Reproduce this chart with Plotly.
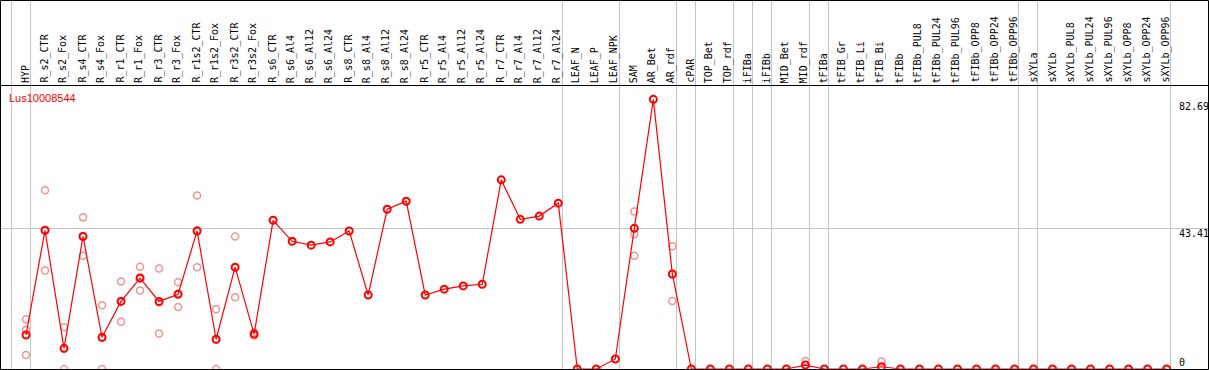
import plotly.graph_objects as go

# ---------------- data ----------------
categories = [
    "HYP", "R_s2_CTR", "R_s2_Fox", "R_s4_CTR", "R_s4_Fox", "R_r1_CTR", "R_r1_Fox",
    "R_r3_CTR", "R_r3_Fox", "R_r1s2_CTR", "R_r1s2_Fox", "R_r3s2_CTR", "R_r3s2_Fox",
    "R_s6_CTR", "R_s6_Al4", "R_s6_Al12", "R_s6_Al24", "R_s8_CTR", "R_s8_Al4",
    "R_s8_Al12", "R_s8_Al24", "R_r5_CTR", "R_r5_Al4", "R_r5_Al12", "R_r5_Al24",
    "R_r7_CTR", "R_r7_Al4", "R_r7_Al12", "R_r7_Al24",
    "LEAF_N", "LEAF_P", "LEAF_NPK",
    "SAM", "AR_Bet", "AR_rdf",
    "cPAR",
    "TOP_Bet", "TOP_rdf",
    "iFIBa",
    "iFIBb",
    "MID_Bet", "MID_rdf",
    "tFIBa",
    "tFIB_Gr", "tFIB_Li", "tFIB_Bi", "tFIBb", "tFIBb_PUL8", "tFIBb_PUL24",
    "tFIBb_PUL96", "tFIBb_OPP8", "tFIBb_OPP24", "tFIBb_OPP96",
    "sXYLa",
    "sXYLb", "sXYLb_PUL8", "sXYLb_PUL24", "sXYLb_PUL96", "sXYLb_OPP8",
    "sXYLb_OPP24", "sXYLb_OPP96",
]

# number of categories in each sample group (separated by grey lines)
group_sizes = [1, 28, 3, 3, 1, 2, 1, 1, 2, 1, 10, 1, 7]

mean_values = [
    10.5, 42.9, 6.4, 41.0, 9.8, 20.9, 28.1, 20.9, 23.1, 42.7, 9.2, 31.5, 10.8,
    46.0, 39.5, 38.3, 39.3, 42.7, 22.9, 49.4, 51.9, 22.9, 24.7, 25.7, 26.2,
    58.5, 46.3, 47.3, 51.3,
    0.0, 0.0, 3.1,
    43.5, 83.4, 29.4,
    0.0,
    0.0, 0.0,
    0.0,
    0.0,
    0.0, 1.2,
    0.0,
    0.0, 0.0, 0.7, 0.0, 0.0, 0.0, 0.0, 0.0, 0.0, 0.0,
    0.0,
    0.0, 0.0, 0.0, 0.0, 0.0, 0.0, 0.0,
]

replicates = [
    [15.4, 12.1, 4.3], [55.3, 30.5, 42.9], [12.9, 0.0, 6.3], [46.9, 35.0, 41.1],
    [19.7, 0.0, 9.7], [27.1, 14.6, 21.0], [31.6, 24.3, 28.4], [31.1, 11.0, 20.6],
    [26.8, 19.2, 23.3], [53.7, 31.5, 42.9], [18.5, 0.0, 9.1], [41.0, 22.2, 31.3],
    [11.4, 10.4, 10.6],
    [], [], [], [], [], [], [], [], [], [], [], [], [], [], [], [],
    [], [], [],
    [48.7, 41.7, 35.0], [], [38.0, 21.0, 29.2],
    [],
    [], [],
    [],
    [],
    [], [2.5],
    [],
    [], [], [2.3], [], [], [], [], [], [], [],
    [],
    [], [], [], [], [], [], [],
]

gene_name = "Lus10008544"
y_label_values = [82.69, 43.41, 0]

# ---------------- geometry / style ----------------
W, H = 1209, 370
X0_PX, X_STEP = 26.0, 19.01          # pixel of first category, px per category
Y0_PX, Y_SCALE = 369.0, 3.233        # pixel of value 0, px per unit
HEADER_PX = 85                       # header separator line
x_range = [-X0_PX / X_STEP, (W - X0_PX) / X_STEP]
y_range = [-(H - Y0_PX) / Y_SCALE, Y0_PX / Y_SCALE]

RED = "#ff0000"
PINK = "#f09494"
GREY = "#c4c4c4"
MONO = "DejaVu Sans Mono"

xs = list(range(len(categories)))

# group boundaries
bounds = []
b = -1
bounds.append(b + 0.22)
for g in group_sizes:
    b += g
    bounds.append(b + 0.22)

rep_x, rep_y = [], []
for i, reps in enumerate(replicates):
    for r in reps:
        rep_x.append(i)
        rep_y.append(r)

fig = go.Figure()
fig.add_trace(go.Scatter(
    x=rep_x, y=rep_y, mode="markers",
    marker=dict(symbol="circle-open", size=7, color=PINK, line=dict(width=1.5, color=PINK)),
    hoverinfo="skip", showlegend=False,
))
fig.add_trace(go.Scatter(
    x=xs, y=mean_values, mode="lines+markers",
    line=dict(color=RED, width=1.2),
    marker=dict(symbol="circle-open", size=7, color=RED, line=dict(width=2, color=RED)),
    showlegend=False,
))

annotations = []
hdr_paper = 1 - HEADER_PX / H
for i, c in enumerate(categories):
    annotations.append(dict(
        x=i, xref="x", y=hdr_paper, yref="paper", text=c, textangle=-90,
        xanchor="center", yanchor="bottom", showarrow=False, xshift=-1,
        font=dict(family=MONO, size=10, color="black"),
    ))

for v in y_label_values:
    annotations.append(dict(
        x=1177 / W, xref="paper", y=v, yref="y", text=f"{v:g}" if v == 0 else f"{v:.2f}",
        xanchor="left", yanchor="bottom" if v == 0 else "top",
        yshift=-1 if v == 0 else 3, showarrow=False,
        font=dict(family=MONO, size=10, color="black"),
    ))

annotations.append(dict(
    x=6.5 / W, xref="paper", y=1 - 90 / H, yref="paper", text=gene_name,
    xanchor="left", yanchor="top", showarrow=False,
    font=dict(family="Liberation Sans", size=11, color=RED),
))

shapes = [
    # outer border
    dict(type="rect", xref="paper", yref="paper", x0=0.5 / W, x1=1208.5 / W,
         y0=1 - 369.5 / H, y1=1 - 0.5 / H, line=dict(color="black", width=1)),
    # header separator
    dict(type="line", xref="paper", yref="paper", x0=0, x1=1,
         y0=1 - (HEADER_PX + 0.5) / H, y1=1 - (HEADER_PX + 0.5) / H,
         line=dict(color="black", width=1)),
]

fig.update_layout(
    width=W, height=H, autosize=False,
    margin=dict(l=0, r=0, t=0, b=0, pad=0),
    paper_bgcolor="white", plot_bgcolor="white",
    xaxis=dict(range=x_range, tickvals=bounds, showticklabels=False, ticks="",
               showgrid=True, gridcolor=GREY, gridwidth=1, zeroline=False, showline=False),
    yaxis=dict(range=y_range, tickvals=[43.41], showticklabels=False, ticks="",
               showgrid=True, gridcolor=GREY, gridwidth=1, zeroline=False, showline=False),
    annotations=annotations,
    shapes=shapes,
    showlegend=False,
)

fig.write_html("out.html", config={"displayModeBar": False},
               post_script="document.body.style.margin='0';")
